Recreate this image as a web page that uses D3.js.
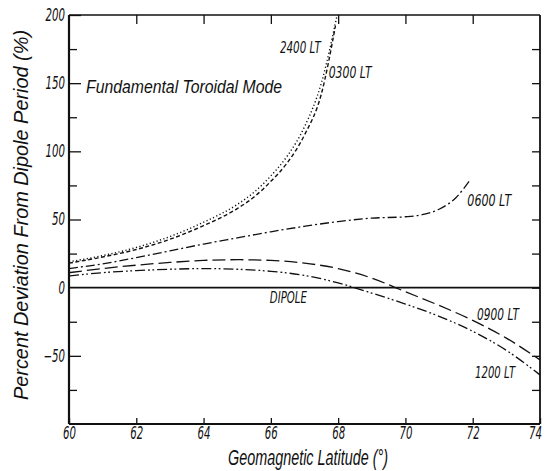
<!DOCTYPE html>
<html><head><meta charset="utf-8">
<script src="https://cdn.jsdelivr.net/npm/d3@7"></script>
<style>
html,body{margin:0;padding:0;background:#fff;}
svg text{font-family:"DejaVu Sans","Liberation Sans",sans-serif;font-style:italic;fill:#111;}
</style></head>
<body><svg id="c" width="545" height="471"></svg>
<script>
// Data
const lat2400 = [60,61,62,63,64,65,65.5,66,66.5,67,67.5,67.97];
const val2400 = [19,23.5,29.5,37.5,48,61,70,82,97,118,150,200];
const lat0300 = [60,61,62,63,64,65,65.5,66,66.5,67,67.5,67.92];
const val0300 = [18,22.5,28,35.5,45.5,58,66.5,78,92,112,142,192];
const lat0600 = [60,61,62,63,64,65,66,67,68,69,70,70.5,71,71.5,71.92];
const val0600 = [14,17.5,22,27,32,36.5,41,45,48.5,51,52,53.5,57.5,66,79];
const lat0900 = [60,61,62,63,64,65,66,67,68,69,70,71,72,73,74];
const val0900 = [11,14,16.5,18.5,20,20.5,20,18,14,7,-3,-13,-24,-37,-53];
const lat1200 = [60,61,62,63,64,65,66,67,68,69,70,71,72,73,74];
const val1200 = [8.5,11,12.5,13.5,14,13.5,12,9,3.5,-4,-12,-21,-32,-46,-64];
const xTicks = [60,62,64,66,68,70,72,74];
const yTicks = [-50,0,50,100,150,200];
const yMinor = [-75,-25,25,75,125,175];
const seriesNames = ["2400 LT","0300 LT","0600 LT","0900 LT","1200 LT"];

(function(){
const svg = d3.select("#c");
const L=69, R=540, T=15, B=424;
const x = d3.scaleLinear().domain([60,74]).range([L,R]);
const y = d3.scaleLinear().domain([-100,200]).range([B,T]);

function condense(sel, f){
  sel.each(function(){
    const len = this.getComputedTextLength();
    d3.select(this).attr("textLength", len*f).attr("lengthAdjust","spacingAndGlyphs");
  });
}

const series = [
  {name:seriesNames[0], lat:lat2400, val:val2400, dash:"1.2,2.4", w:1.4},
  {name:seriesNames[1], lat:lat0300, val:val0300, dash:"4,2.5", w:1.4},
  {name:seriesNames[2], lat:lat0600, val:val0600, dash:"9,3,2,3", w:1.3},
  {name:seriesNames[3], lat:lat0900, val:val0900, dash:"13,5", w:1.3},
  {name:seriesNames[4], lat:lat1200, val:val1200, dash:"10,3,1.8,2.5,1.8,3", w:1.3}
];

const line = d3.line().x(d=>x(d[0])).y(d=>y(d[1])).curve(d3.curveMonotoneX);
series.forEach(s=>{
  svg.append("path").datum(s.lat.map((v,i)=>[v,s.val[i]]))
    .attr("d",line).attr("fill","none").attr("stroke","#111")
    .attr("stroke-width",s.w).attr("stroke-dasharray",s.dash);
});

// dipole line
svg.append("line").attr("x1",x(60)).attr("x2",x(74)).attr("y1",y(0)).attr("y2",y(0))
  .attr("stroke","#111").attr("stroke-width",1.6);

// Axes
const gLeft = svg.append("g").attr("transform",`translate(${L},0)`)
  .call(d3.axisLeft(y).tickValues(yTicks).tickSize(-12).tickPadding(4).tickFormat(d3.format("d")));
const gLeftMinor = svg.append("g").attr("transform",`translate(${L},0)`)
  .call(d3.axisLeft(y).tickValues(yMinor).tickSize(-8).tickFormat(""));
const gRight = svg.append("g").attr("transform",`translate(${R},0)`)
  .call(d3.axisRight(y).tickValues(yMinor.concat([-50,0,50,100,150])).tickSize(-8).tickFormat(""));
const gBottom = svg.append("g").attr("transform",`translate(0,${B})`)
  .call(d3.axisBottom(x).tickValues(xTicks).tickSize(-6).tickPadding(3).tickFormat(d3.format("d")));
const gTop = svg.append("g").attr("transform",`translate(0,${T})`)
  .call(d3.axisTop(x).tickValues(xTicks.slice(1,-1)).tickSize(-9).tickFormat(""));

[gLeft,gLeftMinor,gRight,gBottom,gTop].forEach(g=>{
  g.select(".domain").remove();
  g.selectAll(".tick line").attr("stroke","#111").attr("stroke-width",1.3);
  g.selectAll("text").attr("font-size",17).attr("fill","#111")
   .style("font-family",'"DejaVu Sans",sans-serif').style("font-style","italic");
});
gLeft.selectAll(".tick").filter(d=>d===0).select("line").remove();
condense(gLeft.selectAll(".tick text"), 0.6);
condense(gBottom.selectAll(".tick text"), 0.6);
gBottom.selectAll(".tick").filter(d=>d===74).select("text").attr("dx",-5);

// frame
svg.append("line").attr("x1",L).attr("x2",L).attr("y1",T).attr("y2",B).attr("stroke","#111").attr("stroke-width",2.2);
svg.append("line").attr("x1",L).attr("x2",R).attr("y1",B).attr("y2",B).attr("stroke","#111").attr("stroke-width",2.2);
svg.append("line").attr("x1",L).attr("x2",R).attr("y1",T).attr("y2",T).attr("stroke","#111").attr("stroke-width",1.4);
svg.append("line").attr("x1",R).attr("x2",R).attr("y1",T).attr("y2",B).attr("stroke","#111").attr("stroke-width",1.8);

// Annotations
const ann = (t,xp,yp,size,w)=>svg.append("text").attr("x",xp).attr("y",yp)
   .attr("font-size",size).attr("textLength",w).attr("lengthAdjust","spacingAndGlyphs").text(t);
ann("Fundamental Toroidal Mode",86,93,18,196).style("font-family",'"Liberation Sans","DejaVu Sans",sans-serif');
ann(seriesNames[0],x(66.27),53,16,41);
ann(seriesNames[1],x(67.72),78,16,43);
ann(seriesNames[2],x(71.84),206,16,44);
ann(seriesNames[3],x(72.13),320,16,42);
ann(seriesNames[4],x(72.07),378,16,40);
ann("DIPOLE",x(65.97),303,15,37);

// Axis titles
svg.append("text").attr("x",228).attr("y",465)
  .style("font-family",'"Liberation Sans","DejaVu Sans",sans-serif').attr("font-size",22)
  .attr("textLength",160).attr("lengthAdjust","spacingAndGlyphs").text("Geomagnetic Latitude (°)");
svg.append("text").attr("transform","translate(28,400) rotate(-90)")
  .style("font-family",'"Liberation Sans","DejaVu Sans",sans-serif').attr("font-size",21)
  .attr("textLength",370).attr("lengthAdjust","spacingAndGlyphs").text("Percent Deviation From Dipole Period (%)");
})();
</script></body></html>
